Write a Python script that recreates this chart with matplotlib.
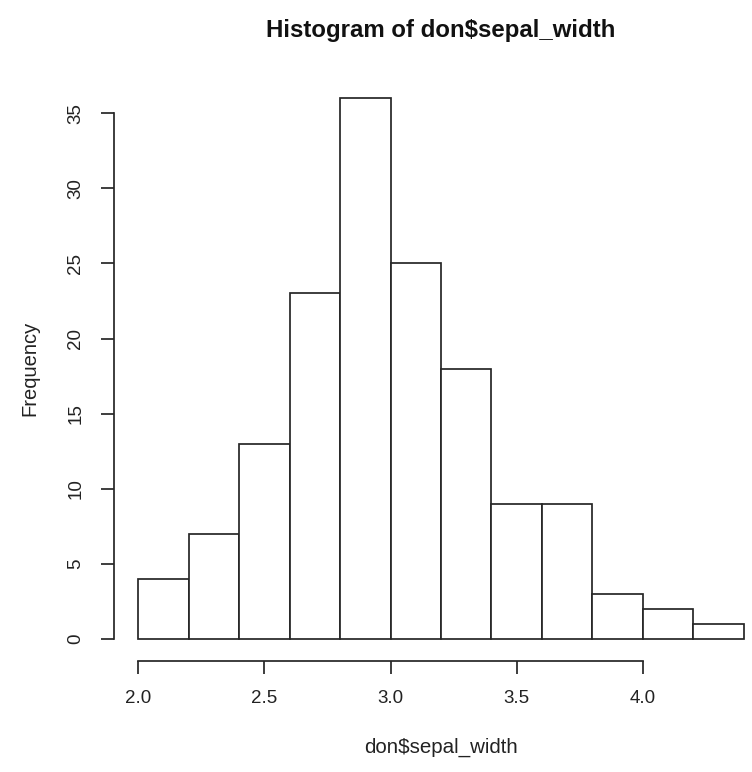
import matplotlib
matplotlib.use("Agg")
import matplotlib.pyplot as plt

bin_edges = [2.0, 2.2, 2.4, 2.6, 2.8, 3.0, 3.2, 3.4, 3.6, 3.8, 4.0, 4.2, 4.4]
counts = [4, 7, 13, 23, 36, 25, 18, 9, 9, 3, 2, 1]
x_ticks = [2.0, 2.5, 3.0, 3.5, 4.0]
x_tick_labels = ["2.0", "2.5", "3.0", "3.5", "4.0"]
y_ticks = [0, 5, 10, 15, 20, 25, 30, 35]
title = "Histogram of don$sepal_width"
xlabel = "don$sepal_width"
ylabel = "Frequency"

plt.rcParams['font.family'] = ['Liberation Sans', 'DejaVu Sans']

W, H = 752, 772
fig = plt.figure(figsize=(W / 100, H / 100), dpi=100)
fig.patch.set_facecolor('white')

left_px, right_px = 114, 768
top_px, bottom_px = 76.5, 660.6
ax = fig.add_axes([left_px / W, 1 - bottom_px / H,
                   (right_px - left_px) / W, (bottom_px - top_px) / H])

lc = '#262626'
lw = 1.25
lefts = bin_edges[:-1]
widths = [b - a for a, b in zip(bin_edges[:-1], bin_edges[1:])]
ax.bar(lefts, counts, width=widths, align='edge', facecolor='white',
       edgecolor=lc, linewidth=lw, clip_on=False)

ax.set_xlim(1.904, 4.496)
ax.set_ylim(-1.44, 37.44)

for s in ['top', 'right']:
    ax.spines[s].set_visible(False)
ax.spines['left'].set_bounds(0, 35)
ax.spines['bottom'].set_bounds(2.0, 4.0)
for s in ['left', 'bottom']:
    ax.spines[s].set_color(lc)
    ax.spines[s].set_linewidth(lw)

ax.set_xticks(x_ticks)
ax.set_xticklabels(x_tick_labels)
ax.set_yticks(y_ticks)
ax.set_yticklabels([str(v) for v in y_ticks], rotation=90, va='center')
ax.tick_params(axis='both', length=9.5, width=lw, color=lc, labelsize=13.5,
               labelcolor='#222222')
ax.tick_params(axis='x', pad=12)
ax.tick_params(axis='y', pad=12)

ax.set_title(title, fontsize=17.3, fontweight='bold', pad=0, color='#111111',
             y=(H - 30 - (H - bottom_px)) / (bottom_px - top_px), va='center')
ax.set_xlabel(xlabel, fontsize=14.8, color='#222222')
ax.xaxis.set_label_coords(0.5, -(747 - bottom_px) / (bottom_px - top_px))
ax.xaxis.label.set_va('center')
ax.set_ylabel(ylabel, fontsize=14.5, color='#222222')
ax.yaxis.set_label_coords(-(114 - 30) / (right_px - left_px), 0.5)
ax.yaxis.label.set_va('center')

fig.savefig('out.png', dpi=100)
